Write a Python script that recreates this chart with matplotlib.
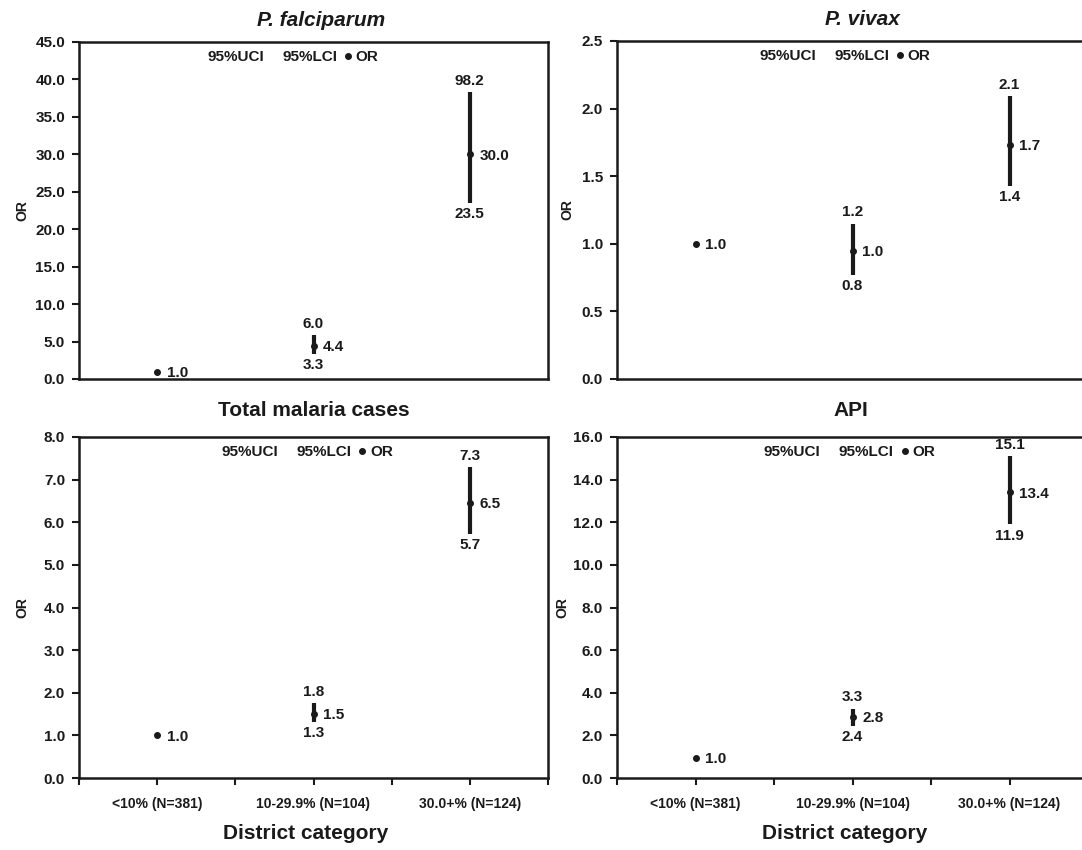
import numpy as np
import matplotlib.pyplot as plt
from matplotlib.lines import Line2D
from matplotlib.ticker import FormatStrFormatter

plt.rcParams['font.family'] = ['Liberation Sans', 'DejaVu Sans']
plt.rcParams['font.weight'] = 'bold'
plt.rcParams['axes.labelweight'] = 'bold'

# categories on the x axis
categories = ['<10% (N=381)', '10-29.9% (N=104)', '30.0+% (N=124)']
x = np.array([1, 2, 3])

# P. falciparum (top of bar is cut at the plotted value, label keeps 98.2)
pf_or = [1.0, 4.4, 30.0]
pf_lci = [np.nan, 3.3, 23.5]
pf_uci = [np.nan, 5.9, 38.3]
pf_or_lab = ['1.0', '4.4', '30.0']
pf_lci_lab = ['', '3.3', '23.5']
pf_uci_lab = ['', '6.0', '98.2']

# P. vivax
pv_or = [1.0, 0.95, 1.73]
pv_lci = [np.nan, 0.77, 1.43]
pv_uci = [np.nan, 1.15, 2.09]
pv_or_lab = ['1.0', '1.0', '1.7']
pv_lci_lab = ['', '0.8', '1.4']
pv_uci_lab = ['', '1.2', '2.1']

# Total malaria cases
tm_or = [1.0, 1.5, 6.45]
tm_lci = [np.nan, 1.32, 5.73]
tm_uci = [np.nan, 1.75, 7.3]
tm_or_lab = ['1.0', '1.5', '6.5']
tm_lci_lab = ['', '1.3', '5.7']
tm_uci_lab = ['', '1.8', '7.3']

# API
api_or = [0.96, 2.87, 13.4]
api_lci = [np.nan, 2.45, 11.9]
api_uci = [np.nan, 3.26, 15.1]
api_or_lab = ['1.0', '2.8', '13.4']
api_lci_lab = ['', '2.4', '11.9']
api_uci_lab = ['', '3.3', '15.1']

ink = '#1a1a1a'
W, H = 1082, 850


def box(x0, x1, y0, y1):
    return [x0 / W, 1 - y1 / H, (x1 - x0) / W, (y1 - y0) / H]


fig = plt.figure(figsize=(10.82, 8.5), dpi=100)

panels = [
    (box(79, 548, 42, 379), 'P. falciparum', 'italic', 45, 5, False,
     pf_or, pf_lci, pf_uci, pf_or_lab, pf_lci_lab, pf_uci_lab, 0.516, 0.445, -0.105, 1.065),
    (box(617, 1088, 41, 379), 'P. vivax', 'italic', 2.5, 0.5, False,
     pv_or, pv_lci, pv_uci, pv_or_lab, pv_lci_lab, pv_uci_lab, 0.522, 0.472, -0.091, 1.065),
    (box(79, 548, 437, 778), 'Total malaria cases', 'normal', 8, 1, True,
     tm_or, tm_lci, tm_uci, tm_or_lab, tm_lci_lab, tm_uci_lab, 0.5, 0.475, -0.105, 1.078),
    (box(617, 1088, 437, 778), 'API', 'normal', 16, 2, True,
     api_or, api_lci, api_uci, api_or_lab, api_lci_lab, api_uci_lab, 0.497, 0.482, -0.102, 1.078),
]

for (rect, title, style, ymax, step, showx, orv, lci, uci,
     or_lab, lci_lab, uci_lab, tx, lx, ylx, ty) in panels:
    ax = fig.add_axes(rect)
    ax.set_xlim(0.5, 3.5)
    ax.set_ylim(0, ymax)

    ax.vlines(x, lci, uci, color=ink, lw=3)
    ax.plot(x, orv, 'o', color=ink, ms=4, ls='none')

    for i in range(3):
        ax.annotate(or_lab[i], (x[i], orv[i]), xytext=(7, -1), textcoords='offset points',
                    ha='left', va='center', fontsize=11, color=ink)
        if uci_lab[i]:
            ax.annotate(uci_lab[i], (x[i], uci[i]), xytext=(0, 3), textcoords='offset points',
                        ha='center', va='bottom', fontsize=11, color=ink)
            ax.annotate(lci_lab[i], (x[i], lci[i]), xytext=(0, -3), textcoords='offset points',
                        ha='center', va='top', fontsize=11, color=ink)

    handles = [Line2D([], [], ls='none'), Line2D([], [], ls='none'),
               Line2D([], [], ls='none', marker='o', ms=4, color=ink)]
    ax.legend(handles, ['95%UCI', '95%LCI', 'OR'], ncol=3, loc='center',
              bbox_to_anchor=(lx, 0.955), frameon=False, fontsize=11,
              handlelength=0.4, handletextpad=0.3, columnspacing=0.5,
              borderpad=0, labelcolor=ink)

    ax.text(tx, ty, title, transform=ax.transAxes, ha='center', va='center',
            fontsize=15, fontstyle=style, fontweight='bold', color=ink)

    ax.set_yticks(np.arange(0, ymax + step / 2, step))
    ax.yaxis.set_major_formatter(FormatStrFormatter('%.1f'))
    ax.tick_params(axis='y', direction='out', length=5, width=1.5, pad=5,
                   labelsize=11, colors=ink)
    ax.set_ylabel('OR', fontsize=10, fontweight='bold', color=ink)
    ax.yaxis.set_label_coords(ylx, 0.5)

    if showx:
        ax.set_xticks(x)
        ax.set_xticklabels(categories)
        ax.set_xticks([0.5, 1.5, 2.5, 3.5], minor=True)
        ax.tick_params(axis='x', which='both', direction='out', length=5, width=1.5,
                       pad=9, labelsize=10, colors=ink)
        ax.set_xlabel('District category', fontsize=15, fontweight='bold', color=ink)
        ax.xaxis.set_label_coords(0.484, -0.135)
    else:
        ax.set_xticks([])

    for s in ax.spines.values():
        s.set_linewidth(1.8)
        s.set_color(ink)

fig.savefig('out.png', dpi=100)
